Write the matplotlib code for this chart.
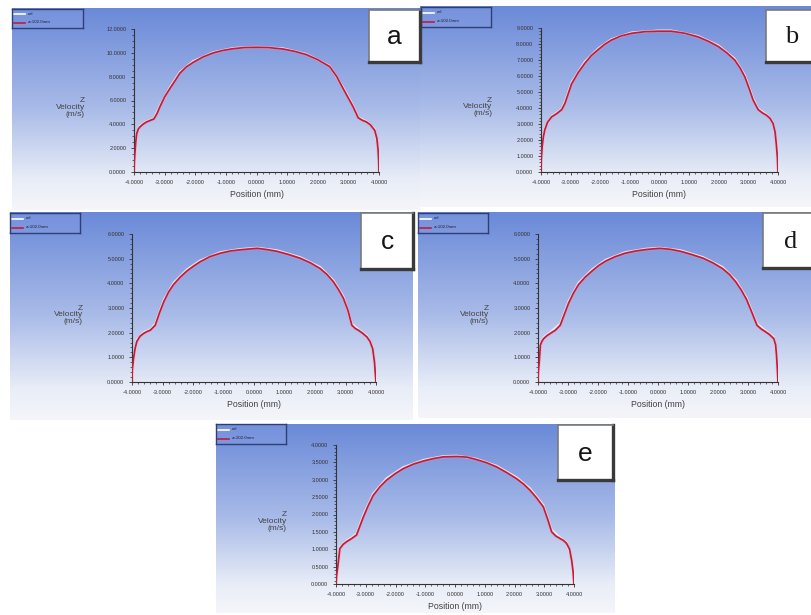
import numpy as np
import matplotlib
matplotlib.use("Agg")
import matplotlib.pyplot as plt
from matplotlib.colors import LinearSegmentedColormap
from matplotlib.ticker import MultipleLocator, FormatStrFormatter

plt.rcParams['font.family'] = ['Liberation Sans', 'DejaVu Sans']

W, H = 811, 615

# ---------------- data ----------------
series_names = ["cel", "z=102.0mm"]
panel_letters = ["a", "b", "c", "d", "e"]

# panel a
a_x_z = [-4.0, -3.99, -3.97, -3.94, -3.91, -3.86, -3.80, -3.70, -3.59, -3.45, -3.35, -3.25, -3.15,
         -3.0, -2.83, -2.65, -2.50, -2.30, -2.07, -1.75, -1.41, -1.10, -0.76, -0.40, 0.0, 0.40,
         0.87, 1.25, 1.63, 2.0, 2.39, 2.62, 2.83, 3.0, 3.15, 3.25, 3.32, 3.45, 3.59, 3.72, 3.86,
         3.93, 3.97, 3.99, 4.0]
a_z = [0.0, 0.8, 1.6, 2.6, 3.25, 3.6, 3.8, 4.02, 4.2, 4.35, 4.45, 4.9, 5.5,
       6.3, 7.0, 7.7, 8.3, 8.8, 9.2, 9.65, 10.0, 10.2, 10.35, 10.44, 10.47, 10.44,
       10.32, 10.12, 9.85, 9.42, 8.85, 8.0, 7.0, 6.2, 5.5, 4.95, 4.55, 4.35, 4.2, 3.95, 3.5,
       2.8, 1.85, 0.9, 0.0]
a_x_cel = [-4.0, -3.97, -3.91, -3.80, -3.59, -3.35, -3.15, -2.83, -2.50, -2.07, -1.41, -0.76, 0.0,
           0.87, 1.63, 2.39, 2.83, 3.15, 3.32, 3.59, 3.86, 3.97, 4.0]
a_cel = [0.0, 1.7, 3.35, 3.9, 4.25, 4.5, 5.6, 7.1, 8.4, 9.3, 10.05, 10.4, 10.5,
         10.37, 9.9, 8.9, 7.1, 5.6, 4.6, 4.25, 3.6, 1.95, 0.0]

# panel b
b_x_z = [-4.0, -3.99, -3.96, -3.92, -3.87, -3.78, -3.64, -3.47, -3.30, -3.19, -3.08, -2.97, -2.75,
         -2.52, -2.30, -2.07, -1.85, -1.62, -1.30, -0.94, -0.50, -0.04, 0.40, 0.85, 1.30, 1.65,
         1.98, 2.27, 2.54, 2.72, 2.88, 3.03, 3.16, 3.33, 3.47, 3.61, 3.73, 3.83, 3.90, 3.94, 3.98, 4.0]
b_z = [0.0, 0.8, 1.6, 2.2, 2.65, 3.1, 3.45, 3.65, 3.9, 4.3, 4.9, 5.5, 6.2,
       6.8, 7.28, 7.65, 7.98, 8.25, 8.5, 8.67, 8.77, 8.8, 8.8, 8.67, 8.45, 8.17,
       7.85, 7.45, 7.0, 6.5, 5.95, 5.2, 4.5, 3.9, 3.7, 3.55, 3.35, 3.05, 2.5, 1.8, 0.9, 0.0]
b_x_cel = [-4.0, -3.96, -3.87, -3.64, -3.47, -3.30, -3.19, -2.97, -2.52, -2.07, -1.62, -0.94, -0.04,
           0.40, 1.30, 1.98, 2.54, 2.88, 3.16, 3.33, 3.61, 3.83, 3.94, 4.0]
b_cel = [0.0, 1.7, 2.75, 3.5, 3.7, 3.95, 4.4, 5.6, 6.9, 7.72, 8.3, 8.72, 8.84,
         8.84, 8.5, 7.92, 7.08, 6.05, 4.6, 3.95, 3.6, 3.12, 1.9, 0.0]

# panel c
c_x_z = [-4.0, -3.99, -3.95, -3.90, -3.84, -3.74, -3.62, -3.50, -3.40, -3.24, -3.10, -2.96, -2.80,
         -2.64, -2.42, -2.20, -1.98, -1.76, -1.45, -1.11, -0.78, -0.45, 0.10, 0.42, 0.75, 1.13,
         1.51, 1.85, 2.17, 2.40, 2.60, 2.77, 2.93, 3.08, 3.21, 3.32, 3.42, 3.56, 3.70, 3.80, 3.89,
         3.95, 4.0]
c_z = [0.0, 0.5, 0.95, 1.35, 1.65, 1.85, 1.97, 2.05, 2.1, 2.3, 2.8, 3.25, 3.65,
       3.95, 4.25, 4.5, 4.7, 4.88, 5.08, 5.22, 5.31, 5.36, 5.42, 5.37, 5.3, 5.17,
       5.02, 4.83, 4.6, 4.35, 4.07, 3.75, 3.4, 2.9, 2.3, 2.17, 2.1, 1.98, 1.83, 1.65, 1.36,
       0.8, 0.0]
c_x_cel = [-4.0, -3.95, -3.84, -3.62, -3.40, -3.24, -2.96, -2.64, -2.20, -1.76, -1.11, -0.45, 0.10,
           0.75, 1.51, 2.17, 2.60, 2.93, 3.21, 3.42, 3.70, 3.89, 4.0]
c_cel = [0.0, 1.0, 1.72, 2.02, 2.14, 2.36, 3.32, 4.02, 4.56, 4.93, 5.26, 5.39, 5.44,
         5.34, 5.06, 4.66, 4.13, 3.47, 2.36, 2.14, 1.88, 1.42, 0.0]

# panel d
d_x_z = [-4.0, -3.99, -3.96, -3.92, -3.87, -3.81, -3.70, -3.59, -3.42, -3.26, -3.12, -2.98, -2.82,
         -2.65, -2.43, -2.20, -1.98, -1.75, -1.43, -1.10, -0.75, -0.40, 0.05, 0.40, 0.75, 1.12,
         1.50, 1.83, 2.15, 2.39, 2.60, 2.78, 2.95, 3.12, 3.30, 3.44, 3.58, 3.72, 3.86, 3.92, 3.95,
         3.98, 4.0]
d_z = [0.0, 0.4, 0.8, 1.5, 1.65, 1.76, 1.88, 1.97, 2.1, 2.3, 2.75, 3.2, 3.6,
       3.95, 4.25, 4.5, 4.72, 4.9, 5.08, 5.22, 5.31, 5.37, 5.42, 5.38, 5.3, 5.17,
       5.02, 4.83, 4.6, 4.35, 4.05, 3.72, 3.35, 2.85, 2.3, 2.15, 2.04, 1.92, 1.76, 1.5, 1.1,
       0.5, 0.0]
d_x_cel = [-4.0, -3.96, -3.92, -3.81, -3.59, -3.26, -2.98, -2.65, -2.20, -1.75, -1.10, -0.40, 0.05,
           0.75, 1.50, 2.15, 2.60, 2.95, 3.30, 3.58, 3.86, 3.95, 4.0]
d_cel = [0.0, 0.86, 1.56, 1.82, 2.02, 2.36, 3.28, 4.02, 4.56, 4.95, 5.26, 5.4, 5.44,
         5.34, 5.06, 4.66, 4.12, 3.42, 2.36, 2.09, 1.82, 1.16, 0.0]

# panel e
e_x_z = [-4.0, -3.98, -3.94, -3.90, -3.87, -3.76, -3.64, -3.47, -3.31, -3.20, -3.08, -2.92, -2.75,
         -2.52, -2.30, -2.02, -1.74, -1.40, -1.06, -0.72, -0.39, 0.06, 0.40, 0.73, 1.06, 1.40,
         1.73, 2.07, 2.30, 2.52, 2.75, 2.97, 3.12, 3.25, 3.39, 3.53, 3.65, 3.75, 3.85, 3.92, 3.97, 4.0]
e_z = [0.0, 0.25, 0.5, 0.8, 1.02, 1.14, 1.22, 1.31, 1.41, 1.66, 1.93, 2.25, 2.55,
       2.8, 2.99, 3.17, 3.32, 3.45, 3.54, 3.61, 3.66, 3.67, 3.65, 3.58, 3.49, 3.37,
       3.21, 3.03, 2.88, 2.7, 2.47, 2.22, 1.85, 1.5, 1.38, 1.31, 1.25, 1.17, 1.0, 0.69, 0.35, 0.0]
e_x_cel = [-4.0, -3.94, -3.87, -3.64, -3.47, -3.31, -3.08, -2.75, -2.30, -1.74, -1.06, -0.39, 0.06,
           0.73, 1.40, 2.07, 2.52, 2.97, 3.25, 3.53, 3.75, 3.92, 4.0]
e_cel = [0.0, 0.55, 1.06, 1.25, 1.34, 1.45, 1.99, 2.6, 3.04, 3.36, 3.57, 3.68, 3.69,
         3.6, 3.4, 3.07, 2.75, 2.27, 1.55, 1.34, 1.2, 0.73, 0.0]

y_max = [12, 9, 6, 6, 4]
y_major = [2, 1, 1, 1, 0.5]
y_minor = [0.5, 0.2, 0.2, 0.2, 0.1]

xs_z = [a_x_z, b_x_z, c_x_z, d_x_z, e_x_z]
zs = [a_z, b_z, c_z, d_z, e_z]
xs_cel = [a_x_cel, b_x_cel, c_x_cel, d_x_cel, e_x_cel]
cels = [a_cel, b_cel, c_cel, d_cel, e_cel]

# ---------------- layout (pixels) ----------------
bg_px = [(12, 8, 420, 210), (420, 6, 811, 207), (10, 212, 413, 420),
         (418, 212, 811, 418), (216, 424, 615, 613)]
ax_px = [(134, 29, 379, 172), (541, 28, 778, 172), (132, 234, 376, 382),
         (538, 234, 778, 382), (336, 445, 574, 584)]
leg_px = [(12, 9, 83, 28), (421, 7, 491, 27), (10, 213, 80, 233),
          (418, 213, 488, 233), (216, 424, 286, 444)]
box_px = [(369, 10, 420, 62), (766, 10, 818, 62), (361, 213, 413, 269),
          (763, 213, 818, 268), (558, 425, 613, 480)]
letter_family = ['Liberation Sans', 'Liberation Serif', 'Liberation Sans',
                 'Liberation Serif', 'Liberation Sans']


def rect(p):
    x0, y0, x1, y1 = p
    return [x0 / W, 1 - y1 / H, (x1 - x0) / W, (y1 - y0) / H]


fig = plt.figure(figsize=(W / 100, H / 100), dpi=100)
fig.patch.set_facecolor('white')

cmap = LinearSegmentedColormap.from_list(
    'fluent', [(0.0, '#6a89d8'), (0.5, '#a9bbe8'), (0.85, '#e8edf7'), (1.0, '#f5f6fa')])
grad = np.linspace(0, 1, 256).reshape(-1, 1)

for i in range(5):
    bg = fig.add_axes(rect(bg_px[i]), zorder=0)
    bg.imshow(grad, aspect='auto', cmap=cmap, extent=[0, 1, 0, 1], origin='upper')
    bg.set_axis_off()

for i in range(5):
    ax = fig.add_axes(rect(ax_px[i]), zorder=1)
    ax.set_facecolor('none')
    ax.plot(xs_cel[i], cels[i], color='#f4f4f8', lw=1.5, solid_joinstyle='round', zorder=2)
    ax.plot(xs_z[i], zs[i], color='#f0a0b0', lw=2.4, alpha=0.35, zorder=2.5)
    ax.plot(xs_z[i], zs[i], color='#c01c3c', lw=1.25, solid_joinstyle='round', zorder=3)
    ax.set_xlim(-4, 4)
    ax.set_ylim(0, y_max[i])
    for s in ['top', 'right']:
        ax.spines[s].set_visible(False)
    for s in ['left', 'bottom']:
        ax.spines[s].set_color('#333333')
        ax.spines[s].set_linewidth(0.8)
    ax.xaxis.set_major_locator(MultipleLocator(1))
    ax.xaxis.set_minor_locator(MultipleLocator(0.2))
    ax.yaxis.set_major_locator(MultipleLocator(y_major[i]))
    ax.yaxis.set_minor_locator(MultipleLocator(y_minor[i]))
    ax.xaxis.set_major_formatter(FormatStrFormatter('%.4f'))
    ax.yaxis.set_major_formatter(FormatStrFormatter('%.4f'))
    ax.tick_params(which='major', length=2.5, width=0.6, color='#333333',
                   labelsize=4, labelcolor='#333333', pad=3)
    ax.tick_params(which='minor', length=1.3, width=0.5, color='#333333')
    ax.set_xlabel('Position (mm)', fontsize=6.3, color='#444444', labelpad=4)
    x0, y0, x1, y1 = ax_px[i]
    fig.text((x0 - 49) / W, 1 - ((y0 + y1) / 2 + 7) / H, 'Z\nVelocity\n(m/s)',
             ha='right', va='center', multialignment='right', fontsize=6.0,
             color='#444444', linespacing=0.95, zorder=3)

for i in range(5):
    lg = fig.add_axes(rect(leg_px[i]), zorder=3)
    lg.set_facecolor((0.55, 0.64, 0.90, 0.35))
    lg.set_xlim(0, 1)
    lg.set_ylim(0, 1)
    lg.set_xticks([])
    lg.set_yticks([])
    for s in lg.spines.values():
        s.set_color('#2e3f78')
        s.set_linewidth(1.0)
    lg.plot([0.03, 0.19], [0.72, 0.72], color='white', lw=1.2)
    lg.plot([0.03, 0.19], [0.27, 0.27], color='#c01c3c', lw=1.2)
    lg.text(0.22, 0.74, series_names[0], fontsize=3.2, va='center', color='#202030')
    lg.text(0.22, 0.29, series_names[1], fontsize=3.2, va='center', color='#202030')

    bx = fig.add_axes(rect(box_px[i]), zorder=4)
    bx.set_facecolor('white')
    bx.set_xticks([])
    bx.set_yticks([])
    for s in ['top', 'left']:
        bx.spines[s].set_color('#7a7a7a')
        bx.spines[s].set_linewidth(1.2)
    for s in ['bottom', 'right']:
        bx.spines[s].set_color('#3a3a3a')
        bx.spines[s].set_linewidth(2.4)
    bx.text(0.5, 0.48, panel_letters[i], ha='center', va='center', fontsize=19,
            color='#151515', family=letter_family[i], transform=bx.transAxes)

fig.savefig('out.png', dpi=100)
